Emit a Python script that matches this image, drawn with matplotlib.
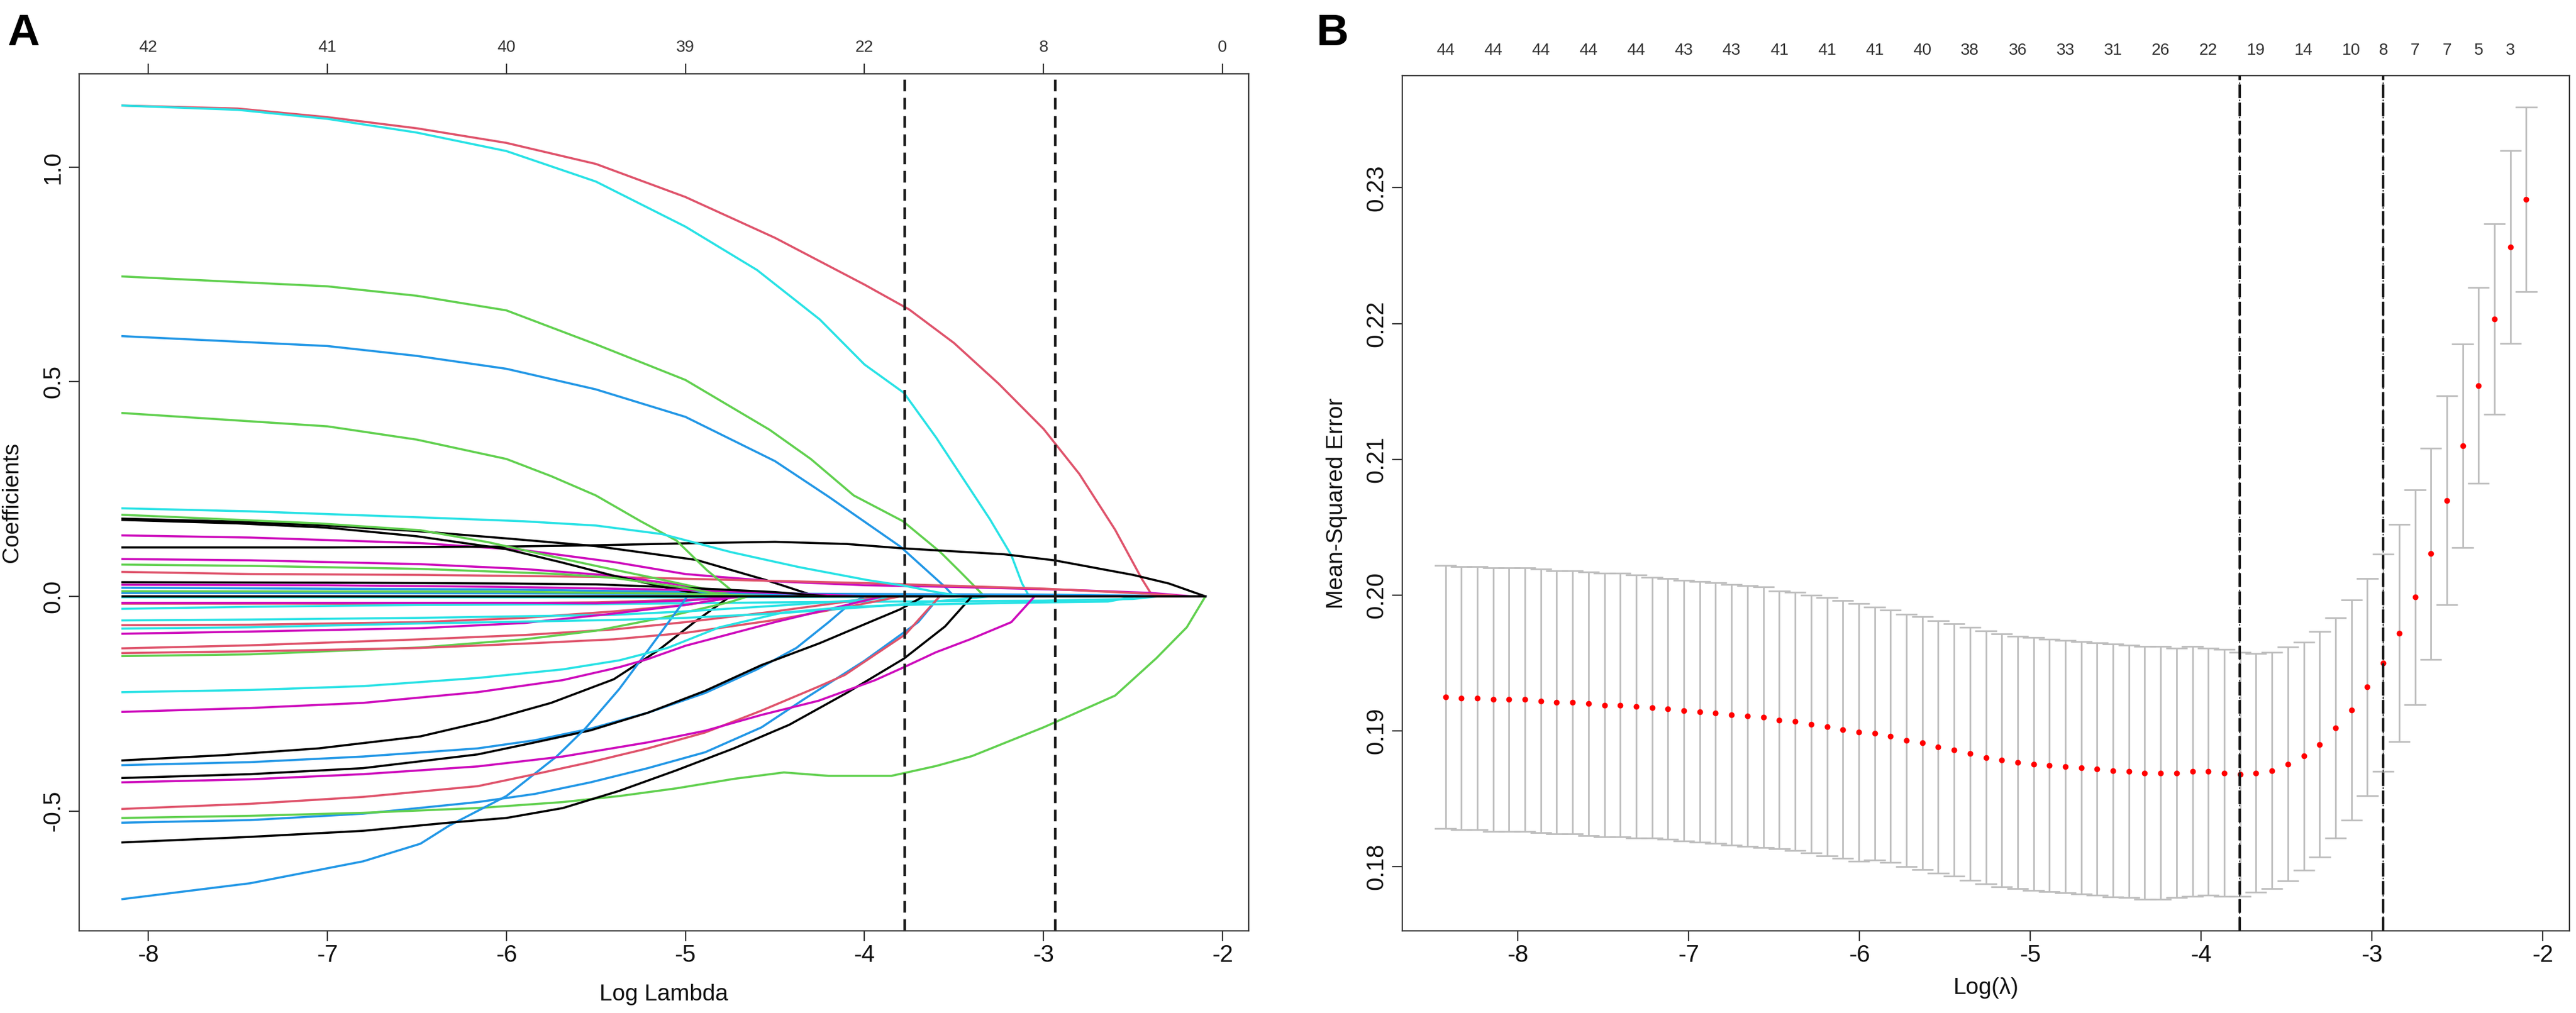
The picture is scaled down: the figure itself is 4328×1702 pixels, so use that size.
"""
lasso_paths.py - glmnet style LASSO figure
A: coefficient paths vs log(lambda)
B: 10-fold CV mean-squared error with SE bars
"""

import matplotlib
matplotlib.use('Agg')
import matplotlib.pyplot as plt

plt.rcParams['font.family'] = ['Liberation Sans', 'DejaVu Sans']
plt.rcParams['axes.unicode_minus'] = False

# ---------------------------------------------------------------------------
# Data
# ---------------------------------------------------------------------------

# selected lambdas (log scale), shared by both panels
lam_min_log = -3.775
lam_1se_log = -2.935

# Panel A: top axis, number of non-zero coefficients
df_ticks = [-8, -7, -6, -5, -4, -3, -2]
df_labels = [42, 41, 40, 39, 22, 8, 0]

# Panel A: coefficient paths, (log lambda, coefficient) per variable
black_paths = [
    ([-8.144, -7.5, -7.0, -6.5, -6.0, -5.5, -4.94, -4.55, -4.27, -2.096],
     [0.181, 0.174, 0.165, 0.152, 0.135, 0.117, 0.085, 0.038, 0.0, 0.0]),
    ([-8.144, -7.0, -6.0, -5.5, -4.94, -4.5, -4.1, -3.79, -3.22, -2.94, -2.5, -2.3, -2.096],
     [0.114, 0.114, 0.116, 0.119, 0.124, 0.127, 0.122, 0.112, 0.098, 0.084, 0.050, 0.030, 0.0]),
    ([-8.144, -7.5, -7.0, -6.5, -6.0, -5.7, -5.4, -5.1, -4.85, -2.096],
     [0.178, 0.170, 0.160, 0.140, 0.110, 0.080, 0.048, 0.020, 0.0, 0.0]),
    ([-8.144, -7.0, -6.0, -5.5, -5.0, -4.5, -4.2, -2.096],
     [0.033, 0.032, 0.030, 0.028, 0.020, 0.010, 0.0, 0.0]),
    ([-8.144, -7.59, -7.05, -6.48, -6.1, -5.75, -5.4, -5.15, -4.95, -4.75, -2.096],
     [-0.382, -0.370, -0.354, -0.326, -0.289, -0.248, -0.193, -0.125, -0.060, 0.0, 0.0]),
    ([-8.144, -7.43, -6.8, -6.16, -5.84, -5.53, -5.21, -4.89, -4.575, -4.25, -4.0, -3.8, -3.67, -2.096],
     [-0.423, -0.414, -0.400, -0.368, -0.340, -0.312, -0.271, -0.220, -0.160, -0.109, -0.065, -0.030, 0.0, 0.0]),
    ([-8.144, -7.43, -6.8, -6.32, -6.0, -5.685, -5.37, -5.05, -4.73, -4.42, -4.1, -3.78, -3.55, -3.4, -2.096],
     [-0.573, -0.560, -0.546, -0.527, -0.516, -0.493, -0.453, -0.405, -0.354, -0.299, -0.225, -0.145, -0.070, 0.0, 0.0]),
    ([-8.144, -2.096], [0.0, 0.0]),
]

red_paths = [
    ([-8.144, -7.5, -7.0, -6.5, -6.0, -5.5, -5.0, -4.5, -4.0, -3.75, -3.5, -3.25, -3.0, -2.8, -2.6, -2.45, -2.39, -2.096],
     [1.143, 1.136, 1.116, 1.090, 1.056, 1.007, 0.930, 0.835, 0.726, 0.668, 0.590, 0.495, 0.390, 0.285, 0.155, 0.040, 0.0, 0.0]),
    ([-8.144, -7.43, -6.48, -5.4, -4.5, -4.0, -3.0, -2.5, -2.2, -2.096],
     [0.057, 0.052, 0.050, 0.045, 0.036, 0.031, 0.018, 0.008, 0.0, 0.0]),
    ([-8.144, -6.5, -5.5, -5.0, -4.6, -2.096],
     [-0.017, -0.017, -0.014, -0.008, 0.0, 0.0]),
    ([-8.144, -7.43, -6.48, -5.9, -5.4, -5.0, -4.7, -2.096],
     [-0.067, -0.066, -0.060, -0.050, -0.035, -0.020, 0.0, 0.0]),
    ([-8.144, -7.43, -6.48, -5.9, -5.4, -5.0, -4.5, -4.2, -3.9, -2.096],
     [-0.121, -0.114, -0.100, -0.090, -0.077, -0.060, -0.035, -0.018, 0.0, 0.0]),
    ([-8.144, -7.43, -6.48, -5.9, -5.4, -5.0, -4.5, -4.1, -3.8, -2.096],
     [-0.132, -0.128, -0.120, -0.110, -0.100, -0.085, -0.055, -0.025, 0.0, 0.0]),
    ([-8.144, -7.43, -6.8, -6.16, -5.84, -5.53, -5.21, -4.89, -4.575, -4.256, -4.11, -3.77, -3.65, -3.58, -2.096],
     [-0.495, -0.483, -0.467, -0.442, -0.414, -0.386, -0.354, -0.317, -0.266, -0.210, -0.183, -0.088, -0.032, 0.0, 0.0]),
]

green_paths = [
    ([-8.144, -7.0, -6.5, -6.0, -5.5, -5.0, -4.53, -4.3, -4.06, -3.785, -3.576, -3.46, -3.33, -2.096],
     [0.745, 0.722, 0.700, 0.666, 0.587, 0.504, 0.388, 0.320, 0.235, 0.175, 0.103, 0.055, 0.0, 0.0]),
    ([-8.144, -7.0, -6.5, -6.0, -5.75, -5.5, -5.25, -5.05, -4.88, -4.76, -4.7, -2.096],
     [0.427, 0.396, 0.365, 0.320, 0.280, 0.235, 0.175, 0.130, 0.061, 0.020, 0.0, 0.0]),
    ([-8.144, -7.43, -7.05, -6.48, -6.1, -5.8, -5.5, -5.2, -4.9, -4.7, -2.096],
     [0.190, 0.177, 0.170, 0.154, 0.126, 0.098, 0.071, 0.045, 0.018, 0.0, 0.0]),
    ([-8.144, -7.43, -6.48, -5.7, -5.4, -5.0, -4.75, -2.096],
     [0.074, 0.071, 0.064, 0.052, 0.043, 0.020, 0.0, 0.0]),
    ([-8.144, -7.43, -6.48, -5.9, -5.5, -5.13, -4.75, -4.65, -2.096],
     [-0.139, -0.135, -0.119, -0.100, -0.080, -0.050, -0.013, 0.0, 0.0]),
    ([-8.144, -7.43, -6.8, -6.16, -5.685, -5.37, -5.05, -4.73, -4.45, -4.2, -3.85, -3.6, -3.4, -3.0, -2.6, -2.37, -2.2, -2.096],
     [-0.516, -0.511, -0.504, -0.493, -0.479, -0.465, -0.447, -0.425, -0.410, -0.418, -0.418, -0.395, -0.372, -0.305, -0.231, -0.144, -0.072, 0.0]),
    ([-8.144, -6.0, -5.0, -4.5, -2.096],
     [0.012, 0.011, 0.006, 0.0, 0.0]),
]

blue_paths = [
    ([-8.144, -7.0, -6.5, -6.0, -5.5, -5.0, -4.5, -4.2, -3.8, -3.55, -3.5, -2.096],
     [0.606, 0.583, 0.560, 0.530, 0.482, 0.418, 0.315, 0.232, 0.116, 0.022, 0.0, 0.0]),
    ([-8.144, -6.0, -5.0, -4.3, -3.0, -2.5, -2.36, -2.096],
     [0.020, 0.016, 0.010, 0.006, 0.004, 0.002, 0.0, 0.0]),
    ([-8.144, -6.0, -5.0, -4.0, -3.3, -2.096],
     [0.008, 0.007, 0.005, 0.003, 0.0, 0.0]),
    ([-8.144, -7.43, -6.8, -6.16, -5.84, -5.53, -5.21, -4.89, -4.6, -4.38, -4.2, -4.08, -4.0, -2.096],
     [-0.393, -0.386, -0.373, -0.354, -0.335, -0.308, -0.271, -0.225, -0.170, -0.120, -0.060, -0.017, 0.0, 0.0]),
    ([-8.144, -7.43, -6.8, -6.16, -5.84, -5.53, -5.21, -4.89, -4.575, -4.34, -4.0, -3.7, -3.58, -2.096],
     [-0.527, -0.521, -0.506, -0.479, -0.460, -0.433, -0.400, -0.363, -0.305, -0.240, -0.150, -0.060, 0.0, 0.0]),
    ([-8.144, -7.43, -6.8, -6.48, -6.32, -6.0, -5.72, -5.56, -5.37, -5.18, -5.01, -4.99, -2.096],
     [-0.705, -0.668, -0.617, -0.576, -0.534, -0.465, -0.373, -0.308, -0.216, -0.109, -0.012, 0.0, 0.0]),
]

cyan_paths = [
    ([-8.144, -7.5, -7.0, -6.5, -6.0, -5.5, -5.0, -4.6, -4.25, -4.0, -3.78, -3.6, -3.45, -3.3, -3.18, -3.12, -3.08, -2.096],
     [1.143, 1.133, 1.112, 1.080, 1.037, 0.966, 0.861, 0.760, 0.645, 0.540, 0.474, 0.370, 0.275, 0.180, 0.096, 0.030, 0.0, 0.0]),
    ([-8.144, -7.43, -6.48, -5.91, -5.5, -5.13, -4.745, -4.364, -3.984, -3.78, -3.6, -3.45, -2.096],
     [0.205, 0.198, 0.184, 0.175, 0.165, 0.145, 0.103, 0.068, 0.038, 0.025, 0.010, 0.0, 0.0]),
    ([-8.144, -5.0, -4.0, -3.5, -2.096],
     [-0.002, -0.002, -0.001, 0.0, 0.0]),
    ([-8.144, -7.4, -6.5, -5.5, -4.5, -3.8, -3.0, -2.5, -2.36, -2.096],
     [-0.029, -0.024, -0.020, -0.018, -0.014, -0.012, -0.010, -0.006, 0.0, 0.0]),
    ([-8.144, -7.43, -6.48, -5.4, -5.0, -4.5, -4.0, -3.8, -2.096],
     [-0.056, -0.054, -0.050, -0.043, -0.035, -0.022, -0.008, 0.0, 0.0]),
    ([-8.144, -7.43, -6.48, -5.4, -5.0, -4.5, -4.0, -3.78, -3.5, -3.3, -2.096],
     [-0.075, -0.072, -0.063, -0.055, -0.050, -0.040, -0.025, -0.018, -0.008, 0.0, 0.0]),
    ([-8.144, -7.43, -6.8, -6.16, -5.685, -5.37, -5.1, -4.81, -4.46, -4.1, -3.8, -3.43, -3.0, -2.64, -2.48, -2.096],
     [-0.223, -0.218, -0.209, -0.190, -0.170, -0.149, -0.120, -0.072, -0.038, -0.025, -0.020, -0.017, -0.014, -0.012, 0.0, 0.0]),
]

magenta_paths = [
    ([-8.144, -7.43, -6.48, -5.91, -5.4, -5.0, -4.8, -4.5, -4.0, -3.5, -2.85, -2.4, -2.17, -2.096],
     [0.142, 0.137, 0.124, 0.108, 0.080, 0.052, 0.045, 0.035, 0.026, 0.022, 0.015, 0.008, 0.0, 0.0]),
    ([-8.144, -7.43, -6.48, -5.91, -5.4, -5.0, -4.7, -2.096],
     [0.087, 0.084, 0.075, 0.064, 0.048, 0.025, 0.0, 0.0]),
    ([-8.144, -7.0, -6.0, -5.0, -4.5, -4.0, -2.096],
     [0.027, 0.026, 0.022, 0.015, 0.008, 0.0, 0.0]),
    ([-8.144, -6.0, -5.5, -5.0, -4.7, -2.096],
     [-0.015, -0.015, -0.016, -0.010, 0.0, 0.0]),
    ([-8.144, -7.43, -6.48, -5.9, -5.4, -5.0, -4.7, -2.096],
     [-0.087, -0.082, -0.074, -0.062, -0.040, -0.020, 0.0, 0.0]),
    ([-8.144, -7.43, -6.8, -6.16, -5.685, -5.37, -5.21, -5.0, -4.5, -4.2, -3.9, -2.096],
     [-0.269, -0.260, -0.248, -0.223, -0.195, -0.165, -0.146, -0.115, -0.060, -0.030, 0.0, 0.0]),
    ([-8.144, -7.43, -6.8, -6.16, -5.685, -5.21, -4.89, -4.575, -4.256, -3.94, -3.78, -3.6, -3.41, -3.18, -3.05, -2.096],
     [-0.433, -0.426, -0.414, -0.396, -0.373, -0.340, -0.313, -0.276, -0.243, -0.195, -0.165, -0.130, -0.100, -0.060, 0.0, 0.0]),
]

# Panel B: cross-validation curve
cv_log_lambda = [
    -8.424, -8.331, -8.238, -8.145, -8.052, -7.959, -7.866, -7.773, -7.680, -7.587,
    -7.494, -7.401, -7.308, -7.215, -7.122, -7.029, -6.936, -6.843, -6.750, -6.656,
    -6.563, -6.470, -6.377, -6.284, -6.191, -6.098, -6.005, -5.912, -5.819, -5.726,
    -5.633, -5.540, -5.447, -5.354, -5.261, -5.168, -5.075, -4.982, -4.889, -4.796,
    -4.703, -4.610, -4.517, -4.424, -4.331, -4.238, -4.145, -4.052, -3.959, -3.866,
    -3.773, -3.680, -3.586, -3.493, -3.400, -3.307, -3.214, -3.121, -3.028, -2.935,
    -2.842, -2.749, -2.656, -2.563, -2.470, -2.377, -2.284, -2.191, -2.098,
]
cv_mse = [
    0.1925, 0.1924, 0.1924, 0.1923, 0.1923, 0.1923, 0.1922, 0.1921, 0.1921, 0.1920,
    0.1919, 0.1919, 0.1918, 0.1917, 0.1916, 0.1915, 0.1914, 0.1913, 0.1912, 0.1911,
    0.1910, 0.1908, 0.1907, 0.1905, 0.1903, 0.1901, 0.1899, 0.1898, 0.1896, 0.1893,
    0.1891, 0.1888, 0.1886, 0.18831, 0.18804, 0.18783, 0.18766, 0.18756, 0.18746, 0.18738,
    0.18728, 0.18718, 0.18708, 0.18700, 0.18690, 0.18690, 0.18690, 0.18700, 0.18700, 0.18690,
    0.18680, 0.18690, 0.18708, 0.18756, 0.18814, 0.18900, 0.19021, 0.19152, 0.19323, 0.19500,
    0.19719, 0.19984, 0.20304, 0.20697, 0.21100, 0.21544, 0.22034, 0.22564, 0.22913,
]
cv_se = [
    0.0097, 0.0097, 0.0097, 0.0097, 0.0097, 0.0097, 0.0097, 0.0097, 0.0097, 0.0097,
    0.0097, 0.0097, 0.0097, 0.0096, 0.0096, 0.0096, 0.0096, 0.0096, 0.0096, 0.0096,
    0.0096, 0.0095, 0.0095, 0.0095, 0.0095, 0.0095, 0.0095, 0.0093, 0.0093, 0.0093,
    0.0093, 0.0093, 0.0093, 0.0093, 0.0093, 0.0093, 0.0093, 0.0093, 0.0093, 0.0093,
    0.0093, 0.0093, 0.0093, 0.0093, 0.0093, 0.0093, 0.0092, 0.0092, 0.0091, 0.0091,
    0.0090, 0.0088, 0.0087, 0.0086, 0.0084, 0.0083, 0.0081, 0.0081, 0.0080, 0.0080,
    0.0080, 0.0079, 0.0078, 0.0077, 0.0075, 0.0072, 0.0070, 0.0071, 0.0068,
]
# top axis of panel B: non-zero count at every labelled lambda
nz_index = [0, 3, 6, 9, 12, 15, 18, 21, 24, 27, 30, 33, 36, 39, 42, 45, 48,
            51, 54, 57, 59, 61, 63, 65, 67]
nz_labels = [44, 44, 44, 44, 44, 43, 43, 41, 41, 41, 40, 38, 36, 33, 31, 26, 22,
             19, 14, 10, 8, 7, 7, 5, 3]


# ---------------------------------------------------------------------------
# Style / layout
# ---------------------------------------------------------------------------

W, H = 4328, 1702           # output pixels (dpi 100)
AXIS_COL = '#333333'
TEXT_COL = '#111111'
TICK_FS = 29
TOP_FS = 20
LAB_FS = 28

# R palette 1:6 as used by matplot in plot.glmnet
PALETTE = [('#000000', black_paths), ('#DF536B', red_paths),
           ('#61D04F', green_paths), ('#2297E6', blue_paths),
           ('#28E2E5', cyan_paths), ('#CD0BBC', magenta_paths)]


def fig_box(left, top, right, bottom):
    """pixel box -> figure fraction rect"""
    return [left / W, 1 - bottom / H, (right - left) / W, (bottom - top) / H]


def r_lim(lo, hi):
    """R's default 4 % axis extension"""
    d = (hi - lo) * 0.04
    return lo - d, hi + d


def style_axes(ax):
    for sp in ax.spines.values():
        sp.set_color(AXIS_COL)
        sp.set_linewidth(1.6)
    ax.tick_params(axis='both', direction='out', length=12, width=1.6,
                   color=AXIS_COL, labelsize=TICK_FS, labelcolor=TEXT_COL)
    ax.tick_params(axis='x', pad=4)
    ax.tick_params(axis='y', pad=6)


# ---------------------------------------------------------------------------
# Figure
# ---------------------------------------------------------------------------

fig = plt.figure(figsize=(W / 100, H / 100), dpi=100)

# ---- Panel A --------------------------------------------------------------
axA = fig.add_axes(fig_box(133, 124, 2098, 1564))

n_max = max(len(p) for _, p in PALETTE)
for i in range(n_max):
    for col, paths in PALETTE:
        if i < len(paths):
            xs, ys = paths[i]
            axA.plot(xs, ys, color=col, lw=2.6, solid_joinstyle='round')

all_x = [x for _, p in PALETTE for xs, _ in p for x in xs]
all_y = [y for _, p in PALETTE for _, ys in p for y in ys]
axA.set_xlim(*r_lim(min(all_x), max(all_x)))
axA.set_ylim(*r_lim(min(all_y), max(all_y)))

for v in (lam_min_log, lam_1se_log):
    axA.axvline(v, color='#1a1a1a', lw=3.2, ls=(0, (4.4, 2.5)))

style_axes(axA)
axA.set_xticks(df_ticks, labels=[str(t) for t in df_ticks])
axA.set_yticks([-0.5, 0.0, 0.5, 1.0], labels=['-0.5', '0.0', '0.5', '1.0'])
for t in axA.get_yticklabels():
    t.set_rotation(90)
    t.set_va('center')

secA = axA.secondary_xaxis('top')
secA.set_xticks(df_ticks, labels=[str(d) for d in df_labels])
secA.tick_params(direction='out', length=12, width=1.6, color=AXIS_COL,
                 labelsize=TOP_FS, labelcolor='#333333', pad=10)
secA.spines['top'].set_color(AXIS_COL)
secA.spines['top'].set_linewidth(1.6)

axA.set_xlabel('Log Lambda', fontsize=LAB_FS, color=TEXT_COL)
axA.xaxis.set_label_coords(0.5, -0.0743)
axA.xaxis.label.set_va('center')
axA.set_ylabel('Coefficients', fontsize=LAB_FS, color=TEXT_COL)
axA.yaxis.set_label_coords(-0.0575, 0.5)
axA.yaxis.label.set_va('center')

# ---- Panel B --------------------------------------------------------------
axB = fig.add_axes(fig_box(2356, 127, 4317, 1564))

upper = [m + s for m, s in zip(cv_mse, cv_se)]
lower = [m - s for m, s in zip(cv_mse, cv_se)]
barw = 0.01 * (max(cv_log_lambda) - min(cv_log_lambda))

bar_col = '#bdbdbd'
axB.vlines(cv_log_lambda, lower, upper, color=bar_col, lw=2.0)
axB.hlines(upper, [x - barw for x in cv_log_lambda],
           [x + barw for x in cv_log_lambda], color=bar_col, lw=2.0)
axB.hlines(lower, [x - barw for x in cv_log_lambda],
           [x + barw for x in cv_log_lambda], color=bar_col, lw=2.0)
axB.plot(cv_log_lambda, cv_mse, 'o', ms=6, color='#ff0000', mec='#ff0000', zorder=4)

# glmnet draws a dotted line, the author added a dashed one on top
for v in (lam_min_log, lam_1se_log):
    axB.axvline(v, color='#1a1a1a', lw=1.3, ls=(0, (1.5, 2.5)), zorder=5)
    axB.axvline(v, color='#1a1a1a', lw=3.0, ls=(0, (5.5, 1.8)), zorder=5)

axB.set_xlim(*r_lim(min(cv_log_lambda), max(cv_log_lambda)))
axB.set_ylim(*r_lim(min(lower), max(upper)))

style_axes(axB)
axB.set_xticks(df_ticks, labels=[str(t) for t in df_ticks])
b_yt = [0.18, 0.19, 0.20, 0.21, 0.22, 0.23]
axB.set_yticks(b_yt, labels=[f'{v:.2f}' for v in b_yt])
for t in axB.get_yticklabels():
    t.set_rotation(90)
    t.set_va('center')

secB = axB.secondary_xaxis('top')
secB.set_xticks([cv_log_lambda[i] for i in nz_index],
                labels=[str(n) for n in nz_labels])
secB.tick_params(length=0, labelsize=TOP_FS, labelcolor='#333333', pad=21)
secB.spines['top'].set_color(AXIS_COL)
secB.spines['top'].set_linewidth(1.6)

axB.set_xlabel('Log(\u03bb)', fontsize=LAB_FS, color=TEXT_COL)
axB.xaxis.set_label_coords(0.5, -0.0668)
axB.xaxis.label.set_va('center')
axB.set_ylabel('Mean-Squared Error', fontsize=LAB_FS, color=TEXT_COL)
axB.yaxis.set_label_coords(-0.0561, 0.5)
axB.yaxis.label.set_va('center')

# ---- panel letters --------------------------------------------------------
fig.text(12 / W, 1 - 76 / H, 'A', fontsize=54, fontweight='bold', va='baseline')
fig.text(2212 / W, 1 - 76 / H, 'B', fontsize=54, fontweight='bold', va='baseline')

fig.savefig('out.png', dpi=100, facecolor='white')
